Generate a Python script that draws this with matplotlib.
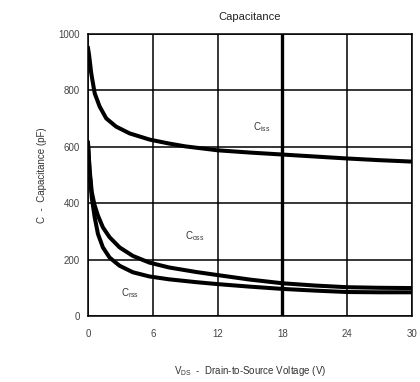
import numpy as np
import matplotlib
matplotlib.use("Agg")
import matplotlib.pyplot as plt

plt.rcParams['font.family'] = ['Liberation Sans', 'DejaVu Sans']

# values (V, pF)
vds_iss = [0, 0.1, 0.3, 0.62, 1.08, 1.69, 2.6, 3.85, 5.7, 7.5, 9, 12, 15, 18, 21, 24, 27, 30]
c_iss = [950, 926, 861, 790, 743, 701, 672, 648, 626, 612, 602, 588, 580, 573, 566, 559, 553, 548]

vds_oss = [0, 0.15, 0.35, 0.6, 0.92, 1.38, 2.0, 2.93, 4.15, 5.7, 7.5, 10, 12, 15, 18, 21, 24, 27, 30]
c_oss = [615, 520, 440, 395, 357, 315, 280, 244, 214, 190, 173, 157, 146, 130, 117, 109, 103, 101, 100]

vds_rss = [0, 0.15, 0.35, 0.62, 0.92, 1.38, 2.0, 2.93, 4.15, 5.7, 7.5, 10, 12, 15, 18, 21, 24, 27, 30]
c_rss = [610, 510, 420, 351, 292, 244, 208, 179, 156, 141, 131, 121, 114, 105, 97, 91, 86, 85, 85]

xticks = [0, 6, 12, 18, 24, 30]
yticks = [0, 200, 400, 600, 800, 1000]

fig = plt.figure(figsize=(4.2, 3.82), dpi=100)
ax = fig.add_axes([0.2095, 0.172, 0.7715, 0.739])

for x, y in [(vds_iss, c_iss), (vds_oss, c_oss), (vds_rss, c_rss)]:
    ax.plot(x, y, color='black', lw=2.9, solid_joinstyle='round', zorder=3)

ax.set_xlim(0, 30)
ax.set_ylim(0, 1000)
ax.set_xticks(xticks)
ax.set_yticks(yticks)
ax.grid(True, color='black', lw=1.1)
ax.axvline(18, color='black', lw=2.4)
ax.tick_params(length=0, labelsize=7, colors='#444444', pad=6)
ax.tick_params(axis='x', pad=9)
for s in ax.spines.values():
    s.set_linewidth(1.1)

ax.text(15.3, 660, r'C$_{\mathregular{iss}}$', fontsize=7, color='#333333')
ax.text(9, 272, r'C$_{\mathregular{oss}}$', fontsize=7, color='#333333')
ax.text(3.1, 71, r'C$_{\mathregular{rss}}$', fontsize=7, color='#333333')

ax.set_title('Capacitance', fontsize=8, color='#222222', pad=10)
ax.set_ylabel('C  -  Capacitance (pF)', fontsize=7, color='#333333', labelpad=8)
ax.set_xlabel(r'V$_{\mathregular{DS}}$  -  Drain-to-Source Voltage (V)', fontsize=7,
              color='#333333', labelpad=18)

fig.savefig('out.png', dpi=100)
